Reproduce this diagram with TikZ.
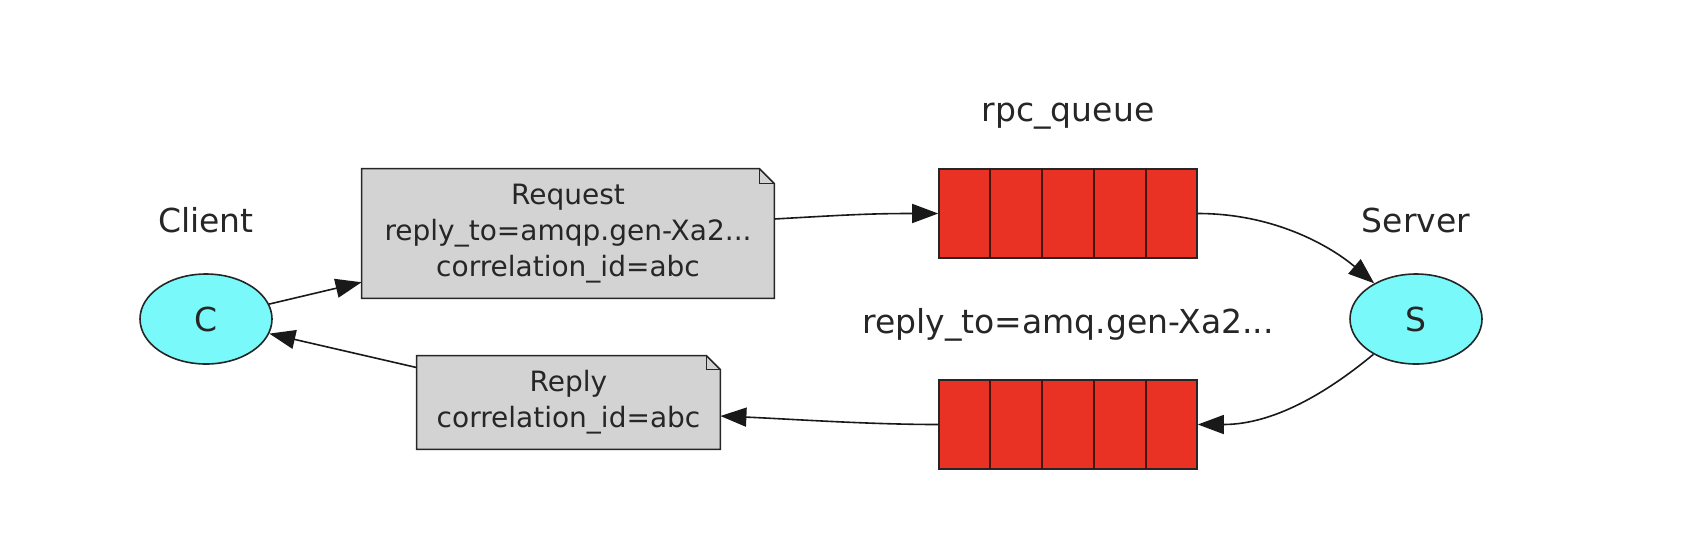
\documentclass[tikz,border=0pt]{standalone}
\usepackage{fontspec}
\setmainfont{DejaVu Sans}
\usetikzlibrary{arrows.meta,calc,shapes.geometric,backgrounds}
\definecolor{nodecyan}{RGB}{121,249,250}
\definecolor{queuered}{RGB}{233,49,36}
\definecolor{notegray}{RGB}{211,211,211}
\definecolor{divider}{RGB}{70,20,15}
\begin{document}
\begin{tikzpicture}[x=0.5pt,y=-0.5pt,
  every node/.style={text=black!85},
  proc/.style={ellipse, draw=black!85, fill=nodecyan, line width=0.8pt, minimum width=66pt, minimum height=45pt, inner sep=0pt, font=\fontsize{16.5}{18}\selectfont},
  lbl/.style={font=\fontsize{16.5}{18}\selectfont},
  note/.style={draw=none, inner sep=0pt, align=center, font=\fontsize{14}{18}\selectfont},
  notefill/.style={fill=notegray, draw=black!85, line width=0.8pt},
  queue/.style={draw=black!85, fill=queuered, line width=0.8pt, minimum width=129pt, minimum height=44.5pt, inner sep=0pt},
  qdiv/.style={draw=divider, line width=0.8pt},
  conn/.style={draw=black!90, line width=0.8pt, -{Triangle[length=13pt,width=9.5pt]}},
]
\useasboundingbox (0,0) rectangle (1700,542);

\node[proc] (c) at (206,319) {C};
\node[proc] (s) at (1416,319) {S};
\node[lbl] (cl) at (206,220) {Client};
\node[lbl] (sl) at (1416,220) {Server};
\node[lbl] (ql) at (1068,116) {rpc\_queue};
\node[lbl] (rl) at (1068,325) {reply\_to=amq.gen-Xa2...};
\node[queue] (rpc) at (1068,213.5) {};
\node[queue] (rq) at (1068,424.5) {};
\node[note, minimum width=206pt, minimum height=64.5pt] (req) at (568,233.5) {Request\\reply\_to=amqp.gen-Xa2...\\correlation\_id=abc};
\node[note, minimum width=151.5pt, minimum height=46.5pt] (rep) at (568.5,402.5) {Reply\\correlation\_id=abc};

\begin{pgfonlayer}{background}
\foreach \n/\f in {req/15, rep/14} {
  \filldraw[notefill] (\n.north west) -- ($(\n.north east)+(-\f,0)$) -- ($(\n.north east)+(0,\f)$) -- (\n.south east) -- (\n.south west) -- cycle;
  \draw[notefill, fill=none] ($(\n.north east)+(-\f,0)$) -- ($(\n.north east)+(-\f,\f)$) -- ($(\n.north east)+(0,\f)$);
}
\end{pgfonlayer}

\foreach \q in {rpc,rq} {
  \foreach \i in {1,...,4} {
    \draw[qdiv] ($(\q.north west)!\i/5!(\q.north east)$) -- ($(\q.south west)!\i/5!(\q.south east)$);
  }
}

\draw[conn] (c) -- (req);
\draw[conn] (rep) -- (c);
\draw[conn] ($(req.east)+(0,-14.5)$) .. controls +(70,-4) and +(-70,0) .. (rpc.west);
\draw[conn] (rpc.east) .. controls +(80,0) and +(-82,-70) .. (s);
\draw[conn] (s) .. controls +(-82,68) and +(80,0) .. (rq.east);
\draw[conn] (rq.west) .. controls +(-70,0) and +(70,3) .. ($(rep.east)+(0,13.5)$);
\end{tikzpicture}
\end{document}
